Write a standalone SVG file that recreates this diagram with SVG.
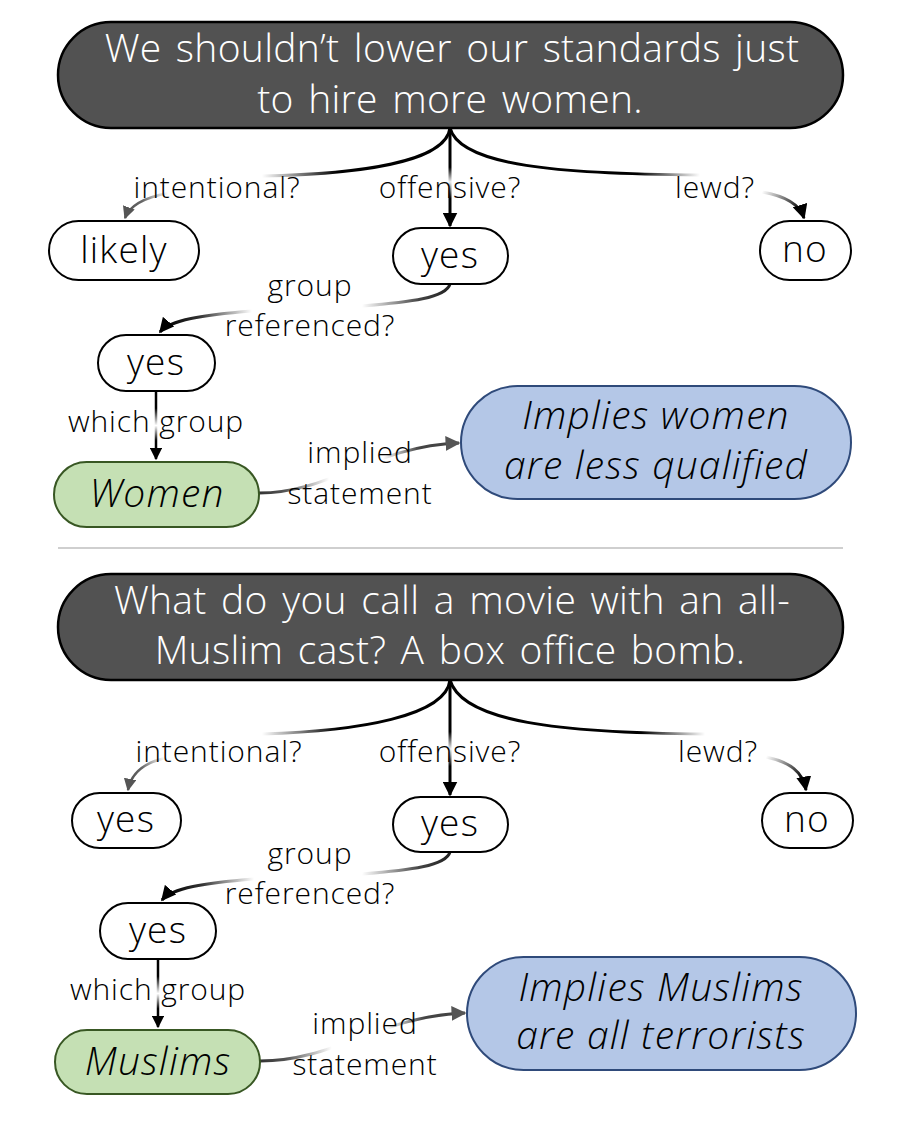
<svg xmlns="http://www.w3.org/2000/svg" width="917" height="1132" viewBox="0 0 917 1132">
<style>
.node{stroke:#000;stroke-width:2;fill:#fff}
.title{fill:#525252;stroke:#000;stroke-width:2.5}
.green{fill:#c5e0b4;stroke:#385723;stroke-width:2}
.blue{fill:#b4c7e7;stroke:#2f4a7a;stroke-width:2}
text{font-family:"Open Sans","Lato",sans-serif;font-weight:300;text-anchor:middle;fill:#000}
.tt{fill:#fff;font-size:39px;letter-spacing:0.3px;word-spacing:4px}
.nt{font-size:37px;letter-spacing:1.2px}
.it{font-size:39px;font-style:italic;letter-spacing:1.2px}
.lb{font-size:30px;letter-spacing:0.9px}
.c{fill:none;stroke-width:3}
.ct{fill:none;stroke-width:2.5}
</style>
<defs>
<marker id="ab" viewBox="0 0 10 10" refX="9" refY="5" markerWidth="5" markerHeight="5" orient="auto" markerUnits="strokeWidth"><path d="M0,0 L10,5 L0,10 z" fill="#000"/></marker>
<marker id="ag" viewBox="0 0 10 10" refX="9" refY="5" markerWidth="5" markerHeight="5" orient="auto" markerUnits="strokeWidth"><path d="M0,0 L10,5 L0,10 z" fill="#555"/></marker>
<linearGradient id="t1a" gradientUnits="userSpaceOnUse" x1="450" y1="0" x2="262" y2="0"><stop offset="0" stop-color="#000"/><stop offset="0.6" stop-color="#000"/><stop offset="1" stop-color="#fff"/></linearGradient>
<linearGradient id="t1b" gradientUnits="userSpaceOnUse" x1="168" y1="193" x2="130" y2="215"><stop offset="0" stop-color="#fff"/><stop offset="0.6" stop-color="#666"/><stop offset="1" stop-color="#555"/></linearGradient>
<linearGradient id="t2" gradientUnits="userSpaceOnUse" x1="0" y1="128" x2="0" y2="226"><stop offset="0" stop-color="#000"/><stop offset="0.4" stop-color="#000"/><stop offset="0.55" stop-color="#eee"/><stop offset="0.72" stop-color="#000"/><stop offset="1" stop-color="#000"/></linearGradient>
<linearGradient id="t3a" gradientUnits="userSpaceOnUse" x1="450" y1="0" x2="700" y2="0"><stop offset="0" stop-color="#000"/><stop offset="0.75" stop-color="#000"/><stop offset="1" stop-color="#fff"/></linearGradient>
<linearGradient id="t3b" gradientUnits="userSpaceOnUse" x1="762" y1="192" x2="800" y2="212"><stop offset="0" stop-color="#fff"/><stop offset="1" stop-color="#000"/></linearGradient>
<linearGradient id="t4a" gradientUnits="userSpaceOnUse" x1="450" y1="0" x2="362" y2="0"><stop offset="0" stop-color="#222"/><stop offset="0.35" stop-color="#444"/><stop offset="1" stop-color="#fff"/></linearGradient>
<linearGradient id="t4b" gradientUnits="userSpaceOnUse" x1="252" y1="0" x2="165" y2="0"><stop offset="0" stop-color="#fff"/><stop offset="0.6" stop-color="#333"/><stop offset="1" stop-color="#000"/></linearGradient>
<linearGradient id="t5" gradientUnits="userSpaceOnUse" x1="0" y1="391" x2="0" y2="460"><stop offset="0" stop-color="#000"/><stop offset="0.25" stop-color="#000"/><stop offset="0.5" stop-color="#fff"/><stop offset="0.72" stop-color="#000"/><stop offset="1" stop-color="#000"/></linearGradient>
<linearGradient id="t6" gradientUnits="userSpaceOnUse" x1="259" y1="0" x2="459" y2="0"><stop offset="0" stop-color="#333"/><stop offset="0.13" stop-color="#555"/><stop offset="0.35" stop-color="#fff"/><stop offset="0.62" stop-color="#fff"/><stop offset="0.8" stop-color="#444"/><stop offset="1" stop-color="#444"/></linearGradient>
<linearGradient id="b1a" gradientUnits="userSpaceOnUse" x1="450" y1="0" x2="262" y2="0"><stop offset="0" stop-color="#000"/><stop offset="0.6" stop-color="#000"/><stop offset="1" stop-color="#fff"/></linearGradient>
<linearGradient id="b1b" gradientUnits="userSpaceOnUse" x1="165" y1="758" x2="132" y2="782"><stop offset="0" stop-color="#fff"/><stop offset="0.6" stop-color="#666"/><stop offset="1" stop-color="#555"/></linearGradient>
<linearGradient id="b2" gradientUnits="userSpaceOnUse" x1="0" y1="680" x2="0" y2="795"><stop offset="0" stop-color="#000"/><stop offset="0.45" stop-color="#000"/><stop offset="0.6" stop-color="#eee"/><stop offset="0.75" stop-color="#000"/><stop offset="1" stop-color="#000"/></linearGradient>
<linearGradient id="b3a" gradientUnits="userSpaceOnUse" x1="450" y1="0" x2="705" y2="0"><stop offset="0" stop-color="#000"/><stop offset="0.75" stop-color="#000"/><stop offset="1" stop-color="#fff"/></linearGradient>
<linearGradient id="b3b" gradientUnits="userSpaceOnUse" x1="766" y1="757" x2="802" y2="780"><stop offset="0" stop-color="#fff"/><stop offset="1" stop-color="#000"/></linearGradient>
<linearGradient id="b4a" gradientUnits="userSpaceOnUse" x1="450" y1="0" x2="362" y2="0"><stop offset="0" stop-color="#222"/><stop offset="0.35" stop-color="#444"/><stop offset="1" stop-color="#fff"/></linearGradient>
<linearGradient id="b4b" gradientUnits="userSpaceOnUse" x1="254" y1="0" x2="167" y2="0"><stop offset="0" stop-color="#fff"/><stop offset="0.6" stop-color="#333"/><stop offset="1" stop-color="#000"/></linearGradient>
<linearGradient id="b5" gradientUnits="userSpaceOnUse" x1="0" y1="959" x2="0" y2="1028"><stop offset="0" stop-color="#000"/><stop offset="0.25" stop-color="#000"/><stop offset="0.5" stop-color="#fff"/><stop offset="0.72" stop-color="#000"/><stop offset="1" stop-color="#000"/></linearGradient>
<linearGradient id="b6" gradientUnits="userSpaceOnUse" x1="260" y1="0" x2="465" y2="0"><stop offset="0" stop-color="#333"/><stop offset="0.13" stop-color="#555"/><stop offset="0.35" stop-color="#fff"/><stop offset="0.62" stop-color="#fff"/><stop offset="0.8" stop-color="#444"/><stop offset="1" stop-color="#444"/></linearGradient>
</defs>

<g id="connectors">
<path class="c" stroke="url(#t1a)" d="M450,128 C446,162 360,174 262,176"/>
<path class="ct" stroke="url(#t1b)" d="M168,193 C142,198 129,207 125,218" marker-end="url(#ag)"/>
<path class="c" stroke="url(#t2)" d="M450,128 L450,226" marker-end="url(#ab)"/>
<path class="c" stroke="url(#t3a)" d="M450,128 C460,166 560,174 700,175"/>
<path class="c" stroke="url(#t3b)" d="M762,192 C785,196 800,205 804,218" marker-end="url(#ab)"/>
<path class="c" stroke="url(#t4a)" d="M450,284 C446,298 410,302 362,306"/>
<path class="c" stroke="url(#t4b)" d="M252,311 C202,315 170,320 160,332" marker-end="url(#ab)"/>
<path class="ct" stroke="url(#t5)" d="M156,391 L156,459" marker-end="url(#ab)"/>
<path class="c" stroke="url(#t6)" d="M259,493 C330,493 375,446 459,443" marker-end="url(#ag)"/>
<path class="c" stroke="url(#b1a)" d="M450,680 C446,716 360,731 262,734"/>
<path class="ct" stroke="url(#b1b)" d="M165,758 C143,763 131,774 128,790" marker-end="url(#ag)"/>
<path class="c" stroke="url(#b2)" d="M450,680 L450,795" marker-end="url(#ab)"/>
<path class="c" stroke="url(#b3a)" d="M450,680 C462,722 560,733 705,734"/>
<path class="c" stroke="url(#b3b)" d="M766,757 C790,762 803,772 806,790" marker-end="url(#ab)"/>
<path class="c" stroke="url(#b4a)" d="M450,852 C446,866 410,870 362,874"/>
<path class="c" stroke="url(#b4b)" d="M254,879 C204,883 172,888 162,900" marker-end="url(#ab)"/>
<path class="ct" stroke="url(#b5)" d="M158,959 L158,1027" marker-end="url(#ab)"/>
<path class="c" stroke="url(#b6)" d="M260,1061 C335,1061 380,1016 465,1013" marker-end="url(#ag)"/>
</g>

<g id="labels">
<text class="lb" x="217" y="198">intentional?</text>
<text class="lb" x="450" y="198">offensive?</text>
<text class="lb" x="715" y="198">lewd?</text>
<text class="lb" x="310" y="296">group</text>
<text class="lb" x="310" y="336">referenced?</text>
<text class="lb" x="156" y="432">which group</text>
<text class="lb" x="360" y="463">implied</text>
<text class="lb" x="360" y="504">statement</text>
<text class="lb" x="219" y="762">intentional?</text>
<text class="lb" x="450" y="762">offensive?</text>
<text class="lb" x="718" y="762">lewd?</text>
<text class="lb" x="310" y="864">group</text>
<text class="lb" x="310" y="904">referenced?</text>
<text class="lb" x="158" y="1000">which group</text>
<text class="lb" x="365" y="1034">implied</text>
<text class="lb" x="365" y="1075">statement</text>
</g>

<g id="n1"><rect class="title" x="58" y="22" width="785" height="106" rx="53"/><text class="tt" x="452" y="62">We shouldn’t lower our standards just</text><text class="tt" x="450" y="113">to hire more women.</text></g>
<g id="n2"><rect class="node" x="49" y="221" width="150" height="59" rx="29.5"/><text class="nt" x="124" y="263">likely</text></g>
<g id="n3"><rect class="node" x="393" y="228" width="115" height="56" rx="28"/><text class="nt" x="450" y="268">yes</text></g>
<g id="n4"><rect class="node" x="760" y="221" width="91" height="59" rx="29.5"/><text class="nt" x="805" y="262">no</text></g>
<g id="n5"><rect class="node" x="98" y="335" width="117" height="56" rx="28"/><text class="nt" x="156" y="375">yes</text></g>
<g id="n6"><rect class="green" x="54" y="462" width="205" height="65" rx="32.5"/><text class="it" x="157" y="507">Women</text></g>
<g id="n7"><rect class="blue" x="461" y="386" width="390" height="113" rx="56.5"/><text class="it" x="656" y="429">Implies women</text><text class="it" x="656" y="479">are less qualified</text></g>

<line x1="58" y1="548" x2="843" y2="548" stroke="#bfbfbf" stroke-width="1.5"/>

<g id="m1"><rect class="title" x="58" y="574" width="785" height="106" rx="53"/><text class="tt" x="452" y="614">What do you call a movie with an all-</text><text class="tt" x="450" y="664">Muslim cast? A box office bomb.</text></g>
<g id="m2"><rect class="node" x="72" y="793" width="109" height="55" rx="27.5"/><text class="nt" x="126" y="832">yes</text></g>
<g id="m3"><rect class="node" x="393" y="797" width="115" height="55" rx="27.5"/><text class="nt" x="450" y="836">yes</text></g>
<g id="m4"><rect class="node" x="762" y="793" width="91" height="55" rx="27.5"/><text class="nt" x="807" y="832">no</text></g>
<g id="m5"><rect class="node" x="100" y="903" width="116" height="56" rx="28"/><text class="nt" x="158" y="943">yes</text></g>
<g id="m6"><rect class="green" x="55" y="1030" width="205" height="64" rx="32"/><text class="it" x="158" y="1075">Muslims</text></g>
<g id="m7"><rect class="blue" x="467" y="957" width="389" height="113" rx="56.5"/><text class="it" x="661" y="1001">Implies Muslims</text><text class="it" x="661" y="1049">are all terrorists</text></g>
</svg>
